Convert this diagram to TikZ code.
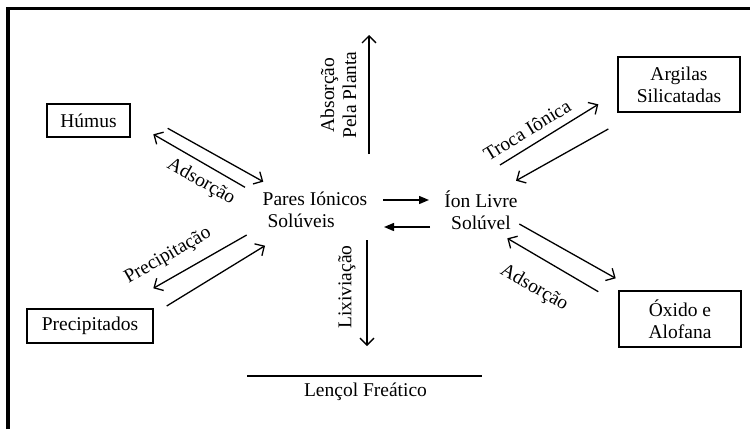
\documentclass[tikz,border=0pt]{standalone}
\usepackage{fontspec}
\setmainfont{Liberation Serif}
\usetikzlibrary{arrows.meta}
\begin{document}
\begin{tikzpicture}[x=1pt,y=-1pt,
  every node/.style={font=\fontsize{19.5}{22}\selectfont, inner sep=0pt},
  box/.style={draw, line width=1.3pt, align=center},
  flow/.style={line width=1.3pt, -{Straight Barb[length=7pt,width=14pt,line width=1.3pt]}},
  swap/.style={line width=1.4pt, -{Triangle[length=10pt,width=8pt]}},
  lbl/.style={align=center}]
\useasboundingbox (0,0) rectangle (750,429);

% outer frame (left and top edges)
\draw[line width=3.2pt] (8,429) -- (8,8.8) -- (750,8.8);

% boxes
\node[box, minimum width=83pt, minimum height=33pt] (humus) at (88.5,120.5) {Húmus};
\node[box, minimum width=126pt, minimum height=34pt] (precip) at (90,326) {Precipitados};
\node[box, minimum width=122pt, minimum height=55pt] (argilas) at (679,84.5) {Argilas\\Silicatadas};
\node[box, minimum width=122pt, minimum height=56pt] (oxido) at (680,319) {Óxido e\\Alofana};

% central species
\node[align=left] (pares) at (315,210) {Pares Iónicos\\\ Solúveis};
\node[align=center] (ion) at (481,210) {Íon Livre\\Solúvel};

% arrow end points
\coordinate (hA) at (167.7,128.3); \coordinate (hB) at (263.3,181.7);
\coordinate (hC) at (245,187.3);   \coordinate (hD) at (153.3,134.3);
\coordinate (pA) at (246.7,235);   \coordinate (pB) at (153.3,288.3);
\coordinate (pC) at (166.7,306);   \coordinate (pD) at (265,245.7);
\coordinate (aA) at (500,165);     \coordinate (aB) at (598.3,104.3);
\coordinate (aC) at (608.3,129);   \coordinate (aD) at (516,180.7);
\coordinate (oA) at (519.3,224);   \coordinate (oB) at (615.7,278.3);
\coordinate (oC) at (598.3,291.7); \coordinate (oD) at (507.3,238.3);
\coordinate (sA) at (383,200);     \coordinate (sB) at (429,200);
\coordinate (sC) at (430,227);     \coordinate (sD) at (384,227);
\coordinate (up0) at (369,154);    \coordinate (up1) at (369,35);
\coordinate (dn0) at (367,240);    \coordinate (dn1) at (367,346);
\coordinate (wL) at (247,376);     \coordinate (wR) at (482,376);

% exchanges with the solid phases
\draw[flow] (hA) -- (hB);
\draw[flow] (hC) -- (hD);
\draw[flow] (pA) -- (pB);
\draw[flow] (pC) -- (pD);
\draw[flow] (aA) -- (aB);
\draw[flow] (aC) -- (aD);
\draw[flow] (oA) -- (oB);
\draw[flow] (oC) -- (oD);

% ion pairs <-> free ion
\draw[swap] (sA) -- (sB);
\draw[swap] (sC) -- (sD);

% plant uptake and leaching
\draw[flow] (up0) -- (up1);
\draw[flow] (dn0) -- (dn1);

% water table
\draw[line width=1.3pt] (wL) -- (wR);

% process labels
\node[lbl, rotate=90] (absorcao) at (338.5,95) {Absorção\\Pela Planta};
\node[lbl, rotate=90] (lixiv) at (347,287) {Lixiviação};
\node[lbl, rotate=-29.5] (adsL) at (201,182) {Adsorção};
\node[lbl, rotate=30] (precLbl) at (168,256) {Precipitação};
\node[lbl, rotate=31.5] (troca) at (527,130) {Troca Iônica};
\node[lbl, rotate=-30] (adsR) at (534,288) {Adsorção};
\node[lbl] (lencol) at (365.5,392) {Lençol Freático};
\end{tikzpicture}
\end{document}
